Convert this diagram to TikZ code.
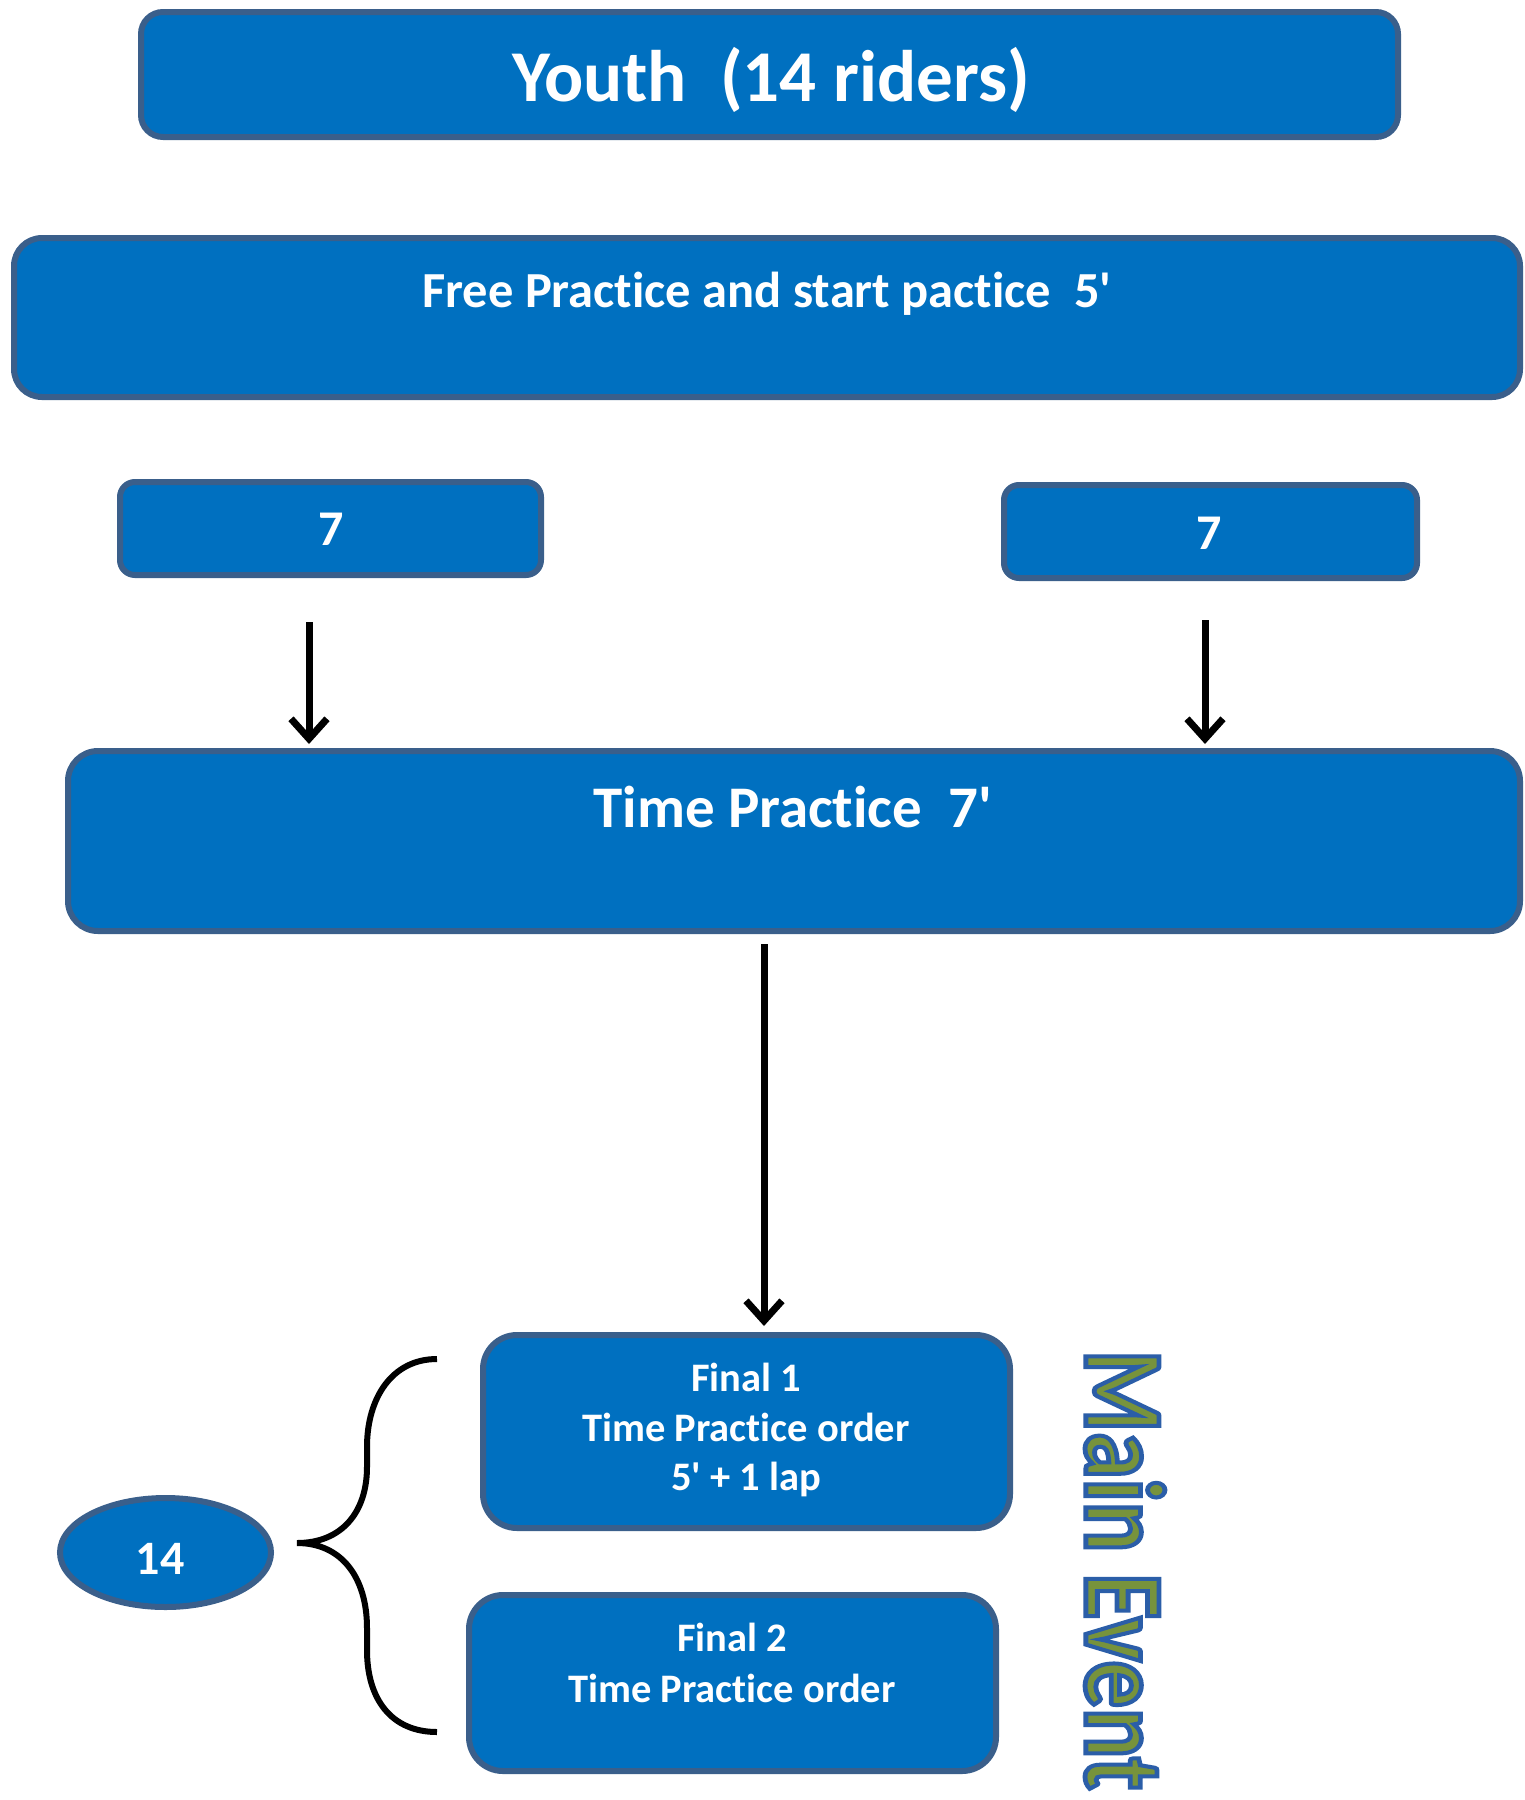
\documentclass[tikz,border=0pt]{standalone}
\usepackage{fontspec}
\setmainfont{Carlito}[Ligatures={TeXOff,NoCommon}]
\usetikzlibrary{arrows.meta,shapes.geometric,calc}
\definecolor{boxfill}{HTML}{0070C0}
\definecolor{boxline}{HTML}{3A5F8B}
\definecolor{mefill}{HTML}{77933C}
\newcommand\fsz[1]{\fontsize{#1}{#1}\selectfont\bfseries}
\newcommand\outlinetxt[1]{\special{pdf:literal direct 2 Tr 4 w 0.17 0.37 0.66 RG}#1\special{pdf:literal direct 0 Tr}}
\tikzset{
  bluebox/.style={draw=boxline, fill=boxfill, line width=6pt, inner sep=0pt},
  wtxt/.style={text=white, inner sep=0pt, anchor=base},
  arr/.style={line width=7pt, -{Straight Barb[length=20pt,width=36pt]}},
}
\begin{document}
\begin{tikzpicture}[x=1pt,y=-1pt]
\useasboundingbox (0,0) rectangle (1525,1800);
% boxes
\node[bluebox, rounded corners=22pt, minimum width=1257pt, minimum height=125pt] (youth) at (769.5,74.5) {};
\node[wtxt, font=\fsz{73}] (youthT) at (771,101) {Youth\ \ (14 riders)};
\node[bluebox, rounded corners=28pt, minimum width=1506pt, minimum height=159pt] (fp) at (767,317.5) {};
\node[wtxt, font=\fsz{50.5}] (fpT) at (767,307.5) {Free\ Practice and start pactice\ \ 5'};
\node[bluebox, rounded corners=15pt, minimum width=421pt, minimum height=93pt] (sevenL) at (330.5,528.5) {};
\node[wtxt, font=\fsz{50}] (sevenLT) at (331,545) {7};
\node[bluebox, rounded corners=15pt, minimum width=413pt, minimum height=93pt] (sevenR) at (1210.5,531.5) {};
\node[wtxt, font=\fsz{50}] (sevenRT) at (1209,549) {7};
\node[bluebox, rounded corners=30pt, minimum width=1452pt, minimum height=180pt] (tp) at (794,841) {};
\node[wtxt, font=\fsz{59}] (tpT) at (793,827) {Time Practice\ \ 7'};
\node[bluebox, rounded corners=34pt, minimum width=527pt, minimum height=193pt] (f1) at (746.5,1431.5) {};
\node[wtxt, font=\fsz{40.5}] (f1a) at (746,1391) {Final 1};
\node[wtxt, font=\fsz{40.5}] (f1b) at (746,1441) {Time Practice order};
\node[wtxt, font=\fsz{40.5}] (f1c) at (746,1490) {5' + 1 lap};
\node[bluebox, rounded corners=34pt, minimum width=527pt, minimum height=176pt] (f2) at (732.5,1683) {};
\node[wtxt, font=\fsz{40.5}] (f2a) at (732,1651) {Final 2};
\node[wtxt, font=\fsz{40.5}] (f2b) at (732,1702) {Time Practice order};
\node[bluebox, ellipse, minimum width=211pt, minimum height=109pt] (ell) at (165.5,1552.5) {};
\node[wtxt, font=\fsz{48}] (ellT) at (160,1574) {14};
% Main Event
\node[inner sep=0pt, rotate=-90, font=\fsz{94}, text=mefill] (me) at (1125,1570) {\scalebox{1}[1.2]{\outlinetxt{Main Event}}};
% arrows
\coordinate (aL) at (309,622);
\coordinate (aR) at (1205,620);
\coordinate (aC) at (764,944);
\draw[arr, shorten >=4pt] (aL) -- (aL |- tp.north);
\draw[arr, shorten >=4pt] (aR) -- (aR |- tp.north);
\draw[arr, shorten >=6pt] (aC) -- (aC |- f1.north);
% brace
\coordinate (bTop) at (437,1359);
\coordinate (bTip) at (297,1543);
\coordinate (bBot) at (437,1732);
\draw[line width=6pt, line cap=butt] (bTop) .. controls (392,1359) and (367,1398) .. (367,1447) -- (367,1467) .. controls (367,1512) and (342,1543) .. (bTip) .. controls (342,1543) and (367,1578) .. (367,1628) -- (367,1650) .. controls (367,1700) and (392,1732) .. (bBot);
\end{tikzpicture}
\end{document}
